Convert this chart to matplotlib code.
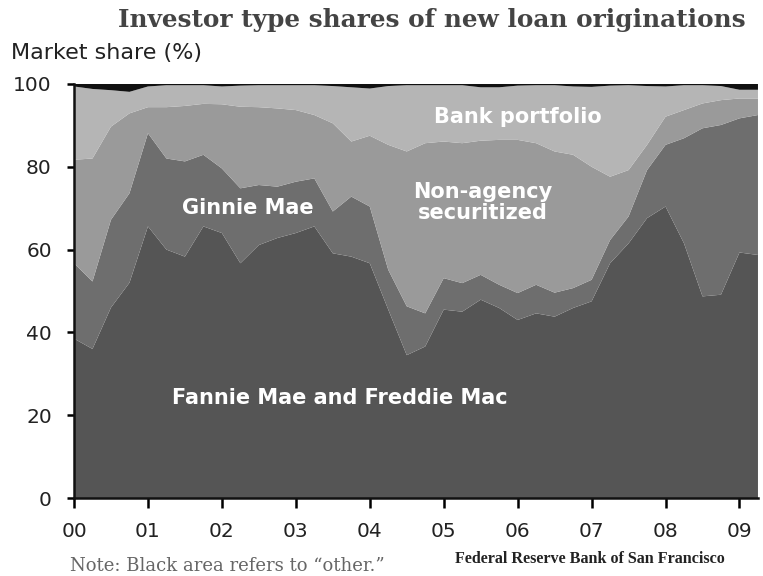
import numpy as np
import pandas as pd
import matplotlib
matplotlib.use("Agg")
import matplotlib.pyplot as plt

# quarterly, 2000Q1 .. 2009Q2 (shares of originations, %)
quarters = pd.period_range("2000Q1", "2009Q2", freq="Q")

fannie_freddie = [38.5, 36.0, 46.0, 52.0, 65.6, 60.0, 58.3, 65.6, 64.0, 56.7,
                  61.1, 62.8, 64.0, 65.6, 59.1, 58.3, 56.7, 45.5, 34.5, 36.6,
                  45.5, 45.0, 47.9, 45.9, 43.0, 44.6, 43.8, 45.9, 47.5, 56.7,
                  61.5, 67.6, 70.4, 61.5, 48.7, 49.1, 59.3, 58.7]
ginnie_mae = [18.2, 16.3, 21.2, 21.6, 22.5, 22.0, 23.0, 17.3, 15.6, 18.1,
              14.5, 12.4, 12.4, 11.6, 10.1, 14.5, 13.7, 9.6, 11.8, 8.0,
              7.6, 6.9, 6.0, 5.6, 6.5, 6.9, 5.8, 4.8, 5.2, 5.6,
              6.5, 11.6, 14.9, 25.4, 40.6, 41.0, 32.4, 33.8]
non_agency = [25.0, 29.7, 22.5, 19.3, 6.3, 12.4, 13.4, 12.3, 15.5, 19.7,
              18.8, 18.9, 17.3, 15.3, 21.3, 13.3, 17.1, 30.2, 37.4, 41.1,
              33.0, 33.8, 32.4, 35.0, 37.0, 34.2, 34.1, 32.2, 27.3, 15.3,
              11.2, 6.1, 6.8, 6.8, 6.0, 6.0, 4.8, 4.0]
bank_portfolio = [17.7, 16.8, 8.8, 5.2, 5.0, 5.3, 5.0, 4.5, 4.3, 5.1,
                  5.3, 5.6, 6.0, 7.2, 9.0, 13.1, 11.4, 14.2, 16.0, 14.0,
                  13.6, 14.0, 12.9, 12.7, 13.1, 14.0, 16.0, 16.5, 19.3, 22.0,
                  20.5, 14.2, 7.3, 6.0, 4.4, 3.4, 2.1, 2.1]
other = [0.6, 1.2, 1.5, 1.9, 0.6, 0.3, 0.3, 0.3, 0.6, 0.4,
         0.3, 0.3, 0.3, 0.3, 0.5, 0.8, 1.1, 0.5, 0.3, 0.3,
         0.3, 0.3, 0.8, 0.8, 0.4, 0.3, 0.3, 0.6, 0.7, 0.4,
         0.3, 0.5, 0.6, 0.3, 0.3, 0.5, 1.4, 1.4]

year_labels = ["00", "01", "02", "03", "04", "05", "06", "07", "08", "09"]

x = quarters.year + (quarters.quarter - 1) / 4.0

fig = plt.figure(figsize=(7.63, 5.76), dpi=100)
ax = fig.add_axes([0.097, 0.1354, 0.8964, 0.7188])

ax.stackplot(x, fannie_freddie, ginnie_mae, non_agency, bank_portfolio, other,
             colors=["#555555", "#6e6e6e", "#9a9a9a", "#b5b5b5", "#111111"],
             linewidth=0)

ax.set_xlim(2000, 2009.25)
ax.set_ylim(0, 100)
ax.set_xticks(np.arange(2000, 2010))
ax.set_xticklabels(year_labels)
ax.set_yticks([0, 20, 40, 60, 80, 100])

for s in ["top", "right"]:
    ax.spines[s].set_visible(False)
for s in ["left", "bottom"]:
    ax.spines[s].set_linewidth(1.8)
    ax.spines[s].set_color("#111111")
ax.tick_params(axis="x", direction="out", length=7, width=1.8, pad=10,
               labelsize=14.5, labelcolor="#222222")
ax.tick_params(axis="y", direction="out", length=5, width=1.8, pad=11,
               labelsize=14.5, labelcolor="#222222")

# labels inside the areas
lab = dict(color="white", fontsize=15, fontweight="bold", ha="center", va="center")
ax.text(2006.0, 92.0, "Bank portfolio", **lab)
ax.text(2005.53, 71.3, "Non-agency\nsecuritized", linespacing=1.05, **lab)
ax.text(2002.35, 70.0, "Ginnie Mae", **lab)
ax.text(2003.6, 24.2, "Fannie Mae and Freddie Mac", **lab)

fig.text(0.977, 0.965, "Investor type shares of new loan originations",
         ha="right", va="center", fontsize=17.8, fontweight="bold",
         family="DejaVu Serif", color="#444444")
fig.text(0.014, 0.908, "Market share (%)", ha="left", va="center",
         fontsize=16, color="#222222")
fig.text(0.092, 0.0087, "Note: Black area refers to \u201cother.\u201d", ha="left",
         va="baseline", fontsize=13, family="DejaVu Serif", color="#666666")
fig.text(0.596, 0.023, "Federal Reserve Bank of San Francisco", ha="left",
         va="baseline", fontsize=11.6, fontweight="bold", family="Liberation Serif",
         color="#222222")

fig.savefig("out.png", dpi=100)
